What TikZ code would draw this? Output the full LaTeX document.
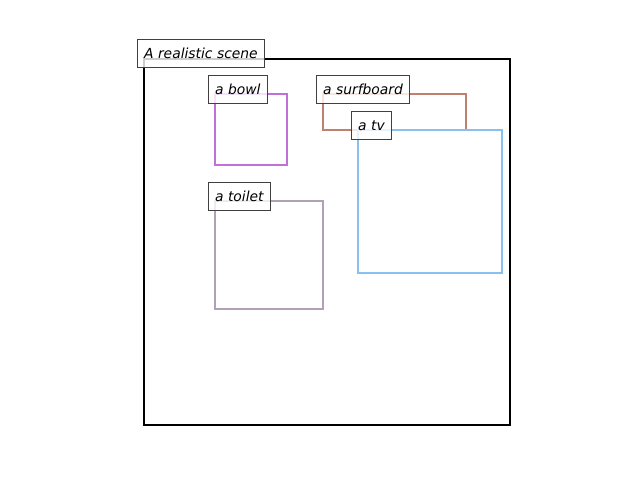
\documentclass[tikz,border=0pt]{standalone}
\usepackage{fontspec}
\setsansfont{DejaVu Sans}
\usetikzlibrary{positioning}
\definecolor{bowlc}{RGB}{192,112,216}
\definecolor{surfc}{RGB}{192,128,110}
\definecolor{tvc}{RGB}{136,192,240}
\definecolor{toiletc}{RGB}{176,160,184}
\tikzset{
  region/.style={line width=1.5pt, line join=miter},
  tag/.style={
    draw=black!75, line width=0.75pt,
    fill=white, fill opacity=0.8, text opacity=1,
    font=\sffamily\itshape\fontsize{10.4}{12}\selectfont,
    inner xsep=5pt, inner ysep=0pt,
    minimum height=21pt, anchor=south west
  }
}
\begin{document}
\begin{tikzpicture}[x=0.75pt, y=-0.75pt]
  \useasboundingbox (0,0) rectangle (640,480);

  % scene frame
  \draw[line width=1.5pt] (144,59) rectangle (510,425);

  % object boxes
  \draw[region, bowlc] (215,94) rectangle (287,165);
  \draw[region, surfc] (323,94) rectangle (466,130);
  \draw[region, tvc] (358,130) rectangle (502,273);
  \draw[region, toiletc] (215,201) rectangle (323,309);

  % labels
  \node[tag] (scene) at (137,68) {A realistic scene};
  \node[tag] (bowl) at (208,104) {a bowl};
  \node[tag] (surfboard) at (316,104) {a surfboard};
  \node[tag] (tv) at (351,140) {a tv};
  \node[tag] (toilet) at (208,211) {a toilet};
\end{tikzpicture}
\end{document}
